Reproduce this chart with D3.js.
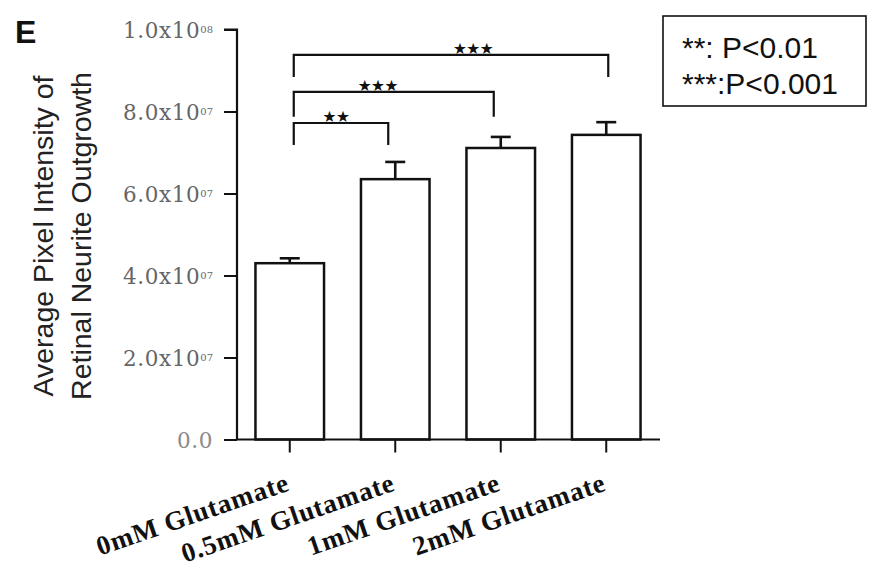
<!DOCTYPE html>
<html>
<head>
<meta charset="utf-8">
<script src="https://cdn.jsdelivr.net/npm/d3@7/dist/d3.min.js"></script>
<style>
  html, body { margin: 0; padding: 0; background: #fff; }
  svg { display: block; }
</style>
</head>
<body>
<svg id="chart" width="869" height="571"></svg>
<script>
// ---- data ----
const categories = ["0mM Glutamate", "0.5mM Glutamate", "1mM Glutamate", "2mM Glutamate"];
const means = [4.30e7, 6.35e7, 7.11e7, 7.43e7];
const errors = [0.12e7, 0.42e7, 0.27e7, 0.31e7];
const yTicks = [0, 2e7, 4e7, 6e7, 8e7, 1e8];
const yTickMantissa = ["0.0", "2.0x10", "4.0x10", "6.0x10", "8.0x10", "1.0x10"];
const yTickExponent = ["", "07", "07", "07", "07", "08"];
// significance brackets: from category index, to category index, bar level, drop level, label
const bracketFrom = [0, 0, 0];
const bracketTo = [1, 2, 3];
const bracketLevel = [7.72e7, 8.48e7, 9.38e7];
const bracketDrop = [7.18e7, 7.87e7, 8.84e7];
const bracketLabels = ["★★", "★★★", "★★★"];
const legendLines = ["**: P<0.01", "***:P<0.001"];
const yTitleLines = ["Average Pixel Intensity of", "Retinal Neurite Outgrowth"];
const panelLabel = "E";

// ---- layout ----
const svg = d3.select("#chart");
const x = d3.scaleBand().domain(categories).range([237, 659]).paddingInner(0.35).paddingOuter(0.175);
const y = d3.scaleLinear().domain([0, 1e8]).range([439.5, 29.5]);
const axisX = 237;

// panel label
svg.append("text").attr("x", 15).attr("y", 43)
  .attr("font-family", "Liberation Sans, Arial, sans-serif").attr("font-weight", "bold")
  .attr("font-size", 32).attr("fill", "#111").text(panelLabel);

// y title
const yt = svg.append("g").attr("transform", "translate(0,236) rotate(-90)");
yTitleLines.forEach((t, i) => {
  yt.append("text").attr("x", 0).attr("y", 53 + i * 38)
    .attr("text-anchor", "middle")
    .attr("font-family", "Liberation Sans, Arial, sans-serif")
    .attr("font-size", 28.5).attr("fill", "#222").text(t);
});

// bars
const bars = svg.append("g");
bars.selectAll("rect").data(categories).join("rect")
  .attr("x", d => x(d)).attr("width", x.bandwidth())
  .attr("y", (d, i) => y(means[i])).attr("height", (d, i) => y(0) - y(means[i]))
  .attr("fill", "#fff").attr("stroke", "#111").attr("stroke-width", 2.5);

// error bars (upper only)
const eb = svg.append("g").attr("stroke", "#111").attr("stroke-width", 2.6);
categories.forEach((c, i) => {
  const cx = x(c) + x.bandwidth() / 2;
  eb.append("line").attr("x1", cx).attr("x2", cx).attr("y1", y(means[i])).attr("y2", y(means[i] + errors[i]));
  eb.append("line").attr("x1", cx - 10).attr("x2", cx + 10).attr("y1", y(means[i] + errors[i])).attr("y2", y(means[i] + errors[i]));
});

// y axis
const yAxis = d3.axisLeft(y).tickValues(yTicks).tickSize(13).tickPadding(10).tickFormat(() => "");
const gy = svg.append("g").attr("transform", `translate(${axisX},0)`).call(yAxis);
gy.select(".domain").attr("stroke", "#111").attr("stroke-width", 2.2).attr("d", `M-13,${y(1e8)}H0V${y(0)}`);
gy.selectAll(".tick line").attr("stroke", "#111").attr("stroke-width", 2);
gy.selectAll(".tick text").each(function(d, i) {
  const t = d3.select(this).text(null)
    .attr("x", -24).attr("dy", "0.35em")
    .attr("font-family", "DejaVu Serif, serif").attr("font-size", 21.5)
    .attr("letter-spacing", 0.6)
    .attr("fill", i === 0 ? "#8a8a8a" : "#666");
  t.append("tspan").text(yTickMantissa[i]);
  if (yTickExponent[i]) {
    t.append("tspan").attr("dy", "-0.5em").attr("font-size", 10).attr("letter-spacing", 0).text(yTickExponent[i]);
  }
});

// x axis
const xAxis = d3.axisBottom(x).tickSize(13).tickFormat(() => "");
const gx = svg.append("g").attr("transform", `translate(0,${y(0)})`).call(xAxis);
gx.select(".domain").attr("stroke", "#111").attr("stroke-width", 2.2).attr("d", `M${axisX},0H660`);
gx.selectAll(".tick line").attr("stroke", "#111").attr("stroke-width", 2);
gx.selectAll(".tick text").remove();

// x labels (rotated)
svg.append("g").selectAll("text").data(categories).join("text")
  .attr("transform", d => `translate(${x(d) + x.bandwidth() / 2 + 1},490) rotate(-19)`)
  .attr("text-anchor", "end")
  .attr("font-family", "Liberation Serif, Times New Roman, serif").attr("font-weight", "bold")
  .attr("font-size", 27).attr("letter-spacing", 0.8).attr("fill", "#111").text(d => d);

// brackets
const starOffset = [-5, -16, 22];
const br = svg.append("g");
bracketFrom.forEach((f, i) => {
  const x1 = x(categories[f]) + x.bandwidth() / 2 + 4;
  const x2 = x(categories[bracketTo[i]]) + x.bandwidth() / 2 + (i === 2 ? 2 : -7);
  const yl = y(bracketLevel[i]);
  const yd = y(bracketDrop[i]);
  br.append("path")
    .attr("d", `M${x1},${yd}V${yl}H${x2}V${yd}`)
    .attr("fill", "none").attr("stroke", "#111").attr("stroke-width", 2.2);
  br.append("text")
    .attr("x", (x1 + x2) / 2 + starOffset[i]).attr("y", yl - 1)
    .attr("text-anchor", "middle")
    .attr("font-family", "DejaVu Sans, sans-serif").attr("font-size", 15.5)
    .attr("letter-spacing", -0.5)
    .attr("fill", "#111").text(bracketLabels[i]);
});

// legend
const lg = svg.append("g");
lg.append("rect").attr("x", 663).attr("y", 16).attr("width", 203).attr("height", 90)
  .attr("fill", "#fff").attr("stroke", "#111").attr("stroke-width", 1.6);
legendLines.forEach((t, i) => {
  lg.append("text").attr("x", 682).attr("y", 58 + i * 36)
    .attr("font-family", "Liberation Sans, Arial, sans-serif")
    .attr("font-size", 30).attr("fill", "#111").text(t);
});
</script>
</body>
</html>
